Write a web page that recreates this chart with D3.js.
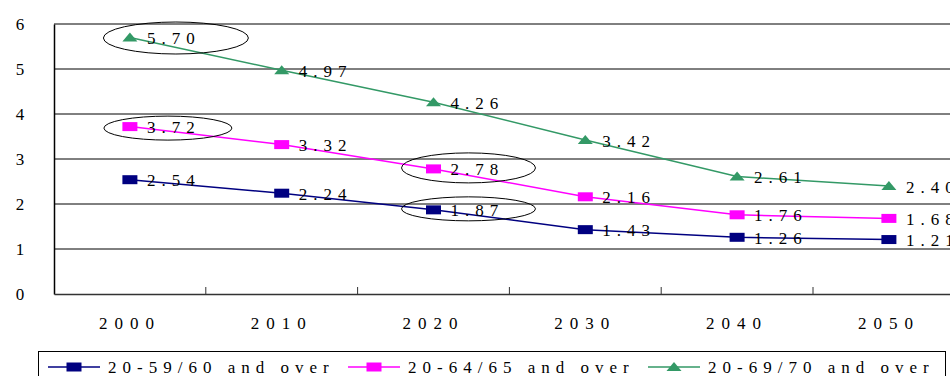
<!DOCTYPE html>
<html>
<head>
<meta charset="utf-8">
<script src="https://cdn.jsdelivr.net/npm/d3@7"></script>
<style>
  html, body { margin: 0; padding: 0; background: #fff; overflow: hidden; }
  svg { display: block; }
  svg text { font-family: 'Liberation Serif', 'DejaVu Serif', serif !important; }
</style>
</head>
<body>
<svg id="chart" width="950" height="376"></svg>
<script>
// Support ratio of working-age people to elderly, by year
const years = ["2000", "2010", "2020", "2030", "2040", "2050"];
const seriesNames = ["20-59/60 and over", "20-64/65 and over", "20-69/70 and over"];
const ratio60 = [2.54, 2.24, 1.87, 1.43, 1.26, 1.21];
const ratio65 = [3.72, 3.32, 2.78, 2.16, 1.76, 1.68];
const ratio70 = [5.70, 4.97, 4.26, 3.42, 2.61, 2.40];
const yTicks = [0, 1, 2, 3, 4, 5, 6];
// points circled on the chart: [series index, year]
const circled = [[2, "2000"], [1, "2000"], [1, "2020"], [0, "2020"]];

const seriesValues = [ratio60, ratio65, ratio70];
const colors = ["#000080", "#FF00FF", "#339966"];
const shapes = ["square", "square", "triangle"];
const serif = "'Liberation Serif', 'DejaVu Serif', serif";

const svg = d3.select("#chart");
const plotLeft = 54, plotTop = 24, bandW = 151.8, plotBottom = 294;
const plotRight = plotLeft + bandW * years.length;

const x = d3.scaleBand().domain(years).range([plotLeft, plotRight]);
const y = d3.scaleLinear().domain([0, 6]).range([plotBottom, plotTop]);
const cx = d => x(d) + x.bandwidth() / 2;

// horizontal gridlines
svg.append("g").selectAll("line").data(yTicks.filter(t => t > 0)).join("line")
  .attr("x1", plotLeft).attr("x2", plotRight)
  .attr("y1", d => y(d)).attr("y2", d => y(d))
  .attr("stroke", "#000").attr("stroke-width", 1);

// y axis
const yAxis = svg.append("g").attr("transform", `translate(${plotLeft},0)`)
  .call(d3.axisLeft(y).tickValues(yTicks).tickFormat(d3.format("d")).tickSize(0).tickPadding(0));
yAxis.attr("font-family", serif);
yAxis.select(".domain").attr("stroke", "#000").attr("stroke-width", 1.5);
yAxis.selectAll("text")
  .attr("x", -34).attr("dy", "0.35em").attr("text-anchor", "middle")
  .attr("font-size", 17).attr("fill", "#000");

// x axis with ticks between categories
const xAxis = svg.append("g").attr("transform", `translate(0,${plotBottom})`)
  .call(d3.axisBottom(x).tickSize(0).tickPadding(0));
xAxis.attr("font-family", serif);
xAxis.select(".domain").attr("stroke", "#333").attr("stroke-width", 1.5);
xAxis.selectAll("text")
  .attr("y", 35).attr("dy", 0)
  .attr("font-size", 17).attr("letter-spacing", 7).attr("fill", "#000");
svg.append("g").selectAll("line").data(years.slice(1)).join("line")
  .attr("x1", d => x(d)).attr("x2", d => x(d))
  .attr("y1", plotBottom).attr("y2", plotBottom - 7)
  .attr("stroke", "#333").attr("stroke-width", 1);

function drawMarker(g, shape, color, px, py) {
  if (shape === "square") {
    g.append("rect").attr("x", px - 7.5).attr("y", py - 4.5)
      .attr("width", 15).attr("height", 9).attr("fill", color);
  } else {
    g.append("path")
      .attr("d", `M${px - 7.5},${py + 4} L${px + 7.5},${py + 4} L${px},${py - 5} Z`)
      .attr("fill", color);
  }
}

const line = d3.line().x((d, i) => cx(years[i])).y(d => y(d));

seriesValues.forEach((vals, s) => {
  const g = svg.append("g").attr("font-family", serif);
  g.append("path").datum(vals).attr("d", line)
    .attr("fill", "none").attr("stroke", colors[s]).attr("stroke-width", 1.5);
  vals.forEach((v, i) => drawMarker(g, shapes[s], colors[s], cx(years[i]), y(v)));
  g.selectAll("text").data(vals).join("text")
    .attr("x", (d, i) => cx(years[i]) + 17)
    .attr("y", d => y(d) + 6.5)
    .attr("font-size", 17).attr("letter-spacing", 6).attr("fill", "#000")
    .text(d => d.toFixed(2));
});

// ellipses around highlighted values
const ringShape = [
  { dx: 46, dy: 0.5, rx: 72.5, ry: 16 },
  { dx: 38, dy: 1.5, rx: 64, ry: 12 },
  { dx: 35, dy: -1, rx: 67, ry: 15 },
  { dx: 35, dy: -1, rx: 67, ry: 12 }
];
svg.append("g").selectAll("ellipse").data(circled).join("ellipse")
  .attr("cx", (d, i) => cx(d[1]) + ringShape[i].dx)
  .attr("cy", (d, i) => y(seriesValues[d[0]][years.indexOf(d[1])]) + ringShape[i].dy)
  .attr("rx", (d, i) => ringShape[i].rx)
  .attr("ry", (d, i) => ringShape[i].ry)
  .attr("fill", "none").attr("stroke", "#000").attr("stroke-width", 1);

// legend
const legend = svg.append("g").attr("font-family", serif);
legend.append("rect").attr("x", 38.5).attr("y", 351.5).attr("width", 907).attr("height", 40)
  .attr("fill", "#fff").attr("stroke", "#000").attr("stroke-width", 1);
const legendX = [48, 348, 648];
seriesNames.forEach((name, s) => {
  const lx = legendX[s], ly = 367;
  legend.append("line").attr("x1", lx).attr("x2", lx + 52).attr("y1", ly).attr("y2", ly)
    .attr("stroke", colors[s]).attr("stroke-width", 1.5);
  drawMarker(legend, shapes[s], colors[s], lx + 26, ly);
  legend.append("text").attr("x", lx + 60).attr("y", ly + 6)
    .attr("font-size", 17).attr("letter-spacing", 6).attr("fill", "#000").text(name);
});
</script>
</body>
</html>
